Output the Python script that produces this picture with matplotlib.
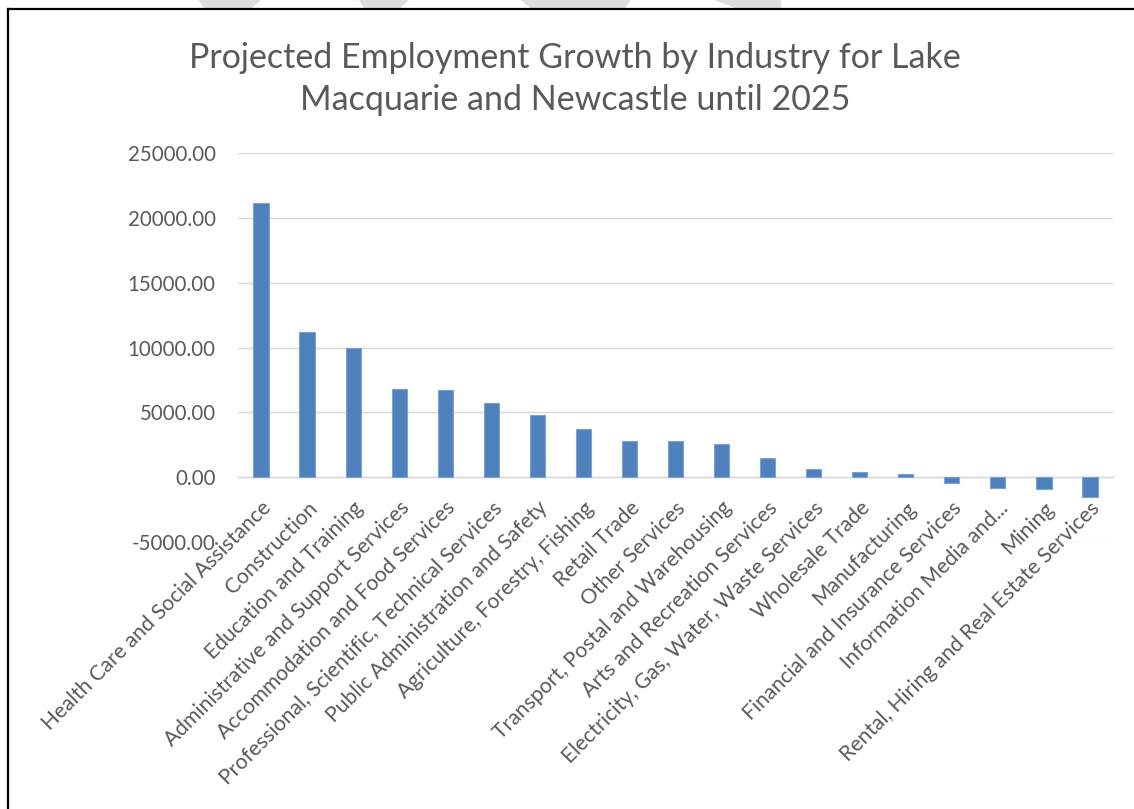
import matplotlib.pyplot as plt
from matplotlib.lines import Line2D
from matplotlib.patches import Polygon

# industries sorted by projected growth (jobs)
industries = [
    "Health Care and Social Assistance",
    "Construction",
    "Education and Training",
    "Administrative and Support Services",
    "Accommodation and Food Services",
    "Professional, Scientific, Technical Services",
    "Public Administration and Safety",
    "Agriculture, Forestry, Fishing",
    "Retail Trade",
    "Other Services",
    "Transport, Postal and Warehousing",
    "Arts and Recreation Services",
    "Electricity, Gas, Water, Waste Services",
    "Wholesale Trade",
    "Manufacturing",
    "Financial and Insurance Services",
    "Information Media and...",
    "Mining",
    "Rental, Hiring and Real Estate Services",
]
growth = [21170, 11160, 9990, 6770, 6700, 5690, 4790, 3680, 2760, 2760,
          2580, 1450, 650, 360, 240, -460, -850, -950, -1540]
y_ticks = [-5000, 0, 5000, 10000, 15000, 20000, 25000]

TITLE = "Projected Employment Growth by Industry for Lake\nMacquarie and Newcastle until 2025"
BAR_COLOR = "#4f81bd"
EDGE_COLOR = "#7ba2d3"
TEXT_COLOR = "#595959"
GRID_COLOR = "#d9d9d9"

plt.rcParams["font.family"] = ["Lato", "DejaVu Sans"]

W, H = 1134, 809
fig = plt.figure(figsize=(W / 100, H / 100), dpi=100)

# faint watermark strokes peeking above the frame
for pts in [
    [(198, 0), (261, 0), (252, 8), (204, 8)],
    [(359, 0), (409, 0), (400, 8), (364, 8)],
    [(521, 0), (631, 0), (625, 8), (530, 8)],
    [(714, 0), (781, 0), (781, 8), (735, 8)],
]:
    fig.add_artist(Polygon([(x / W, 1 - y / H) for x, y in pts], closed=True,
                           transform=fig.transFigure, color="#dedede", lw=0))

# chart frame (left and top edges visible)
fig.add_artist(Line2D([7.5 / W, 7.5 / W], [0, 1 - 9 / H], color="black", lw=1.6,
                      transform=fig.transFigure))
fig.add_artist(Line2D([7.5 / W, 1], [1 - 9 / H, 1 - 9 / H], color="black", lw=1.6,
                      transform=fig.transFigure))

ax = fig.add_axes([238 / W, 1 - 541.7 / H, 875 / W, 388.4 / H])

x = list(range(len(industries)))
ax.bar(x, growth, width=0.33, color=BAR_COLOR, edgecolor=EDGE_COLOR, linewidth=0.8, zorder=3)

ax.set_xlim(-0.5, len(industries) - 0.5)
ax.set_ylim(-5000, 25000)
ax.set_yticks(y_ticks)
ax.set_yticklabels([f"{v:.2f}" for v in y_ticks])
ax.yaxis.grid(True, color=GRID_COLOR, linewidth=1.0)
ax.set_axisbelow(True)

for side in ["top", "right", "left"]:
    ax.spines[side].set_visible(False)
ax.spines["bottom"].set_position(("data", 0))
ax.spines["bottom"].set_color(GRID_COLOR)
ax.spines["bottom"].set_linewidth(1.0)

ax.set_xticks(x)
ax.set_xticklabels(industries, rotation=45, ha="right", rotation_mode="anchor")
ax.tick_params(axis="both", length=0, colors=TEXT_COLOR)
ax.tick_params(axis="y", pad=16, labelsize=14.8)
ax.tick_params(axis="x", pad=15, labelsize=15.2)

fig.text(575 / W, 1 - 79 / H, TITLE, ha="center", va="center", fontsize=24.5,
         color=TEXT_COLOR, linespacing=1.38)

fig.savefig("out.png", dpi=100)
